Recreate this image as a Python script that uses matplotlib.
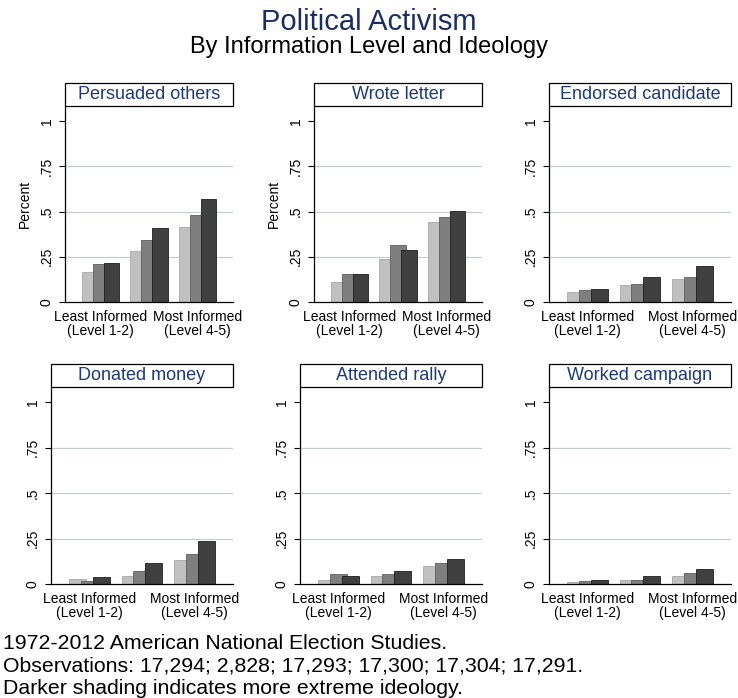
import numpy as np
import matplotlib.pyplot as plt
from matplotlib.patches import Rectangle

plt.rcParams['font.family'] = ['Liberation Sans', 'DejaVu Sans']

# Group labels (information level); the middle group has no label
group_labels = ["Least Informed\n(Level 1-2)", "", "Most Informed\n(Level 4-5)"]

# Shares by ideology shade (light, medium, dark) and information group
persuaded = [[0.166, 0.282, 0.414],
             [0.212, 0.343, 0.479],
             [0.217, 0.409, 0.571]]
wrote_letter = [[0.109, 0.238, 0.440],
                [0.157, 0.317, 0.468],
                [0.157, 0.287, 0.505]]
endorsed = [[0.055, 0.092, 0.129],
            [0.066, 0.098, 0.136],
            [0.070, 0.140, 0.201]]
donated = [[0.027, 0.046, 0.132],
           [0.018, 0.073, 0.165],
           [0.038, 0.113, 0.234]]
rally = [[0.024, 0.046, 0.099],
         [0.055, 0.055, 0.115],
         [0.044, 0.071, 0.135]]
worked = [[0.013, 0.024, 0.044],
          [0.015, 0.024, 0.060],
          [0.024, 0.044, 0.082]]

panel_titles = ["Persuaded others", "Wrote letter", "Endorsed candidate",
                "Donated money", "Attended rally", "Worked campaign"]
panel_data = [persuaded, wrote_letter, endorsed, donated, rally, worked]

yticks = [0, 0.25, 0.5, 0.75, 1]
ytick_labels = ["0", ".25", ".5", ".75", "1"]

shades = ['#c0c0c0', '#7f7f7f', '#404040']
edges = ['#a8a8a8', '#5e5e5e', '#1e1e1e']

W, H = 738, 698
fig = plt.figure(figsize=(W / 100, H / 100), dpi=100)

# panel boxes in pixels: left, top, right, bottom, show y title
boxes = [(65, 106, 233, 302, True), (314, 106, 482, 302, True), (549, 106, 731, 302, False),
         (51, 387, 233, 584, False), (300, 387, 482, 584, False), (549, 387, 731, 584, False)]

x = np.arange(len(group_labels))
step = 0.227
width = 0.324

for (l, t, r, b, ytitle), title, data in zip(boxes, panel_titles, panel_data):
    ax = fig.add_axes([l / W, (H - b) / H, (r - l) / W, (b - t) / H])
    for i, vals in enumerate(data):
        ax.bar(x + (i - 1) * step, vals, width, color=shades[i], edgecolor=edges[i],
               linewidth=0.6, zorder=2 + i)
    ax.set_xlim(-0.73, 2.73)
    ax.set_ylim(0, 1.083)
    ax.set_yticks(yticks)
    ax.set_yticklabels(ytick_labels, rotation=90, va='center', fontsize=10)
    ax.set_xticks(x)
    ax.set_xticklabels(group_labels, fontsize=10, linespacing=1.0)
    ax.tick_params(axis='x', length=0, pad=6)
    ax.tick_params(axis='y', length=4, width=0.8, pad=4)
    for yv in yticks[1:-1]:
        ax.axhline(yv, color='#c4cdd1', linewidth=0.9, zorder=1)
    for side in ('top', 'right'):
        ax.spines[side].set_visible(False)
    for side in ('left', 'bottom'):
        ax.spines[side].set_linewidth(0.9)
        ax.spines[side].set_zorder(6)
    if ytitle:
        ax.set_ylabel("Percent", fontsize=10, labelpad=6)

    # title strip above the plot area
    hbox = 23 / (b - t)
    ax.add_patch(Rectangle((0, 1), 1, hbox, transform=ax.transAxes, clip_on=False,
                           facecolor='white', edgecolor='black', linewidth=0.9))
    ax.text(0.5, 1 + hbox / 2, title, transform=ax.transAxes, ha='center', va='center',
            fontsize=13, color='#1d3a78')

fig.text(0.5, (H - 30.5) / H, "Political Activism", ha='center', va='baseline',
         fontsize=21, color='#1a2c64')
fig.text(0.5, (H - 53) / H, "By Information Level and Ideology", ha='center', va='baseline',
         fontsize=17, color='black')

notes = ["1972-2012 American National Election Studies.",
         "Observations: 17,294; 2,828; 17,293; 17,300; 17,304; 17,291.",
         "Darker shading indicates more extreme ideology."]
for k, line in enumerate(notes):
    fig.text(3 / W, (H - 649 - 22.5 * k) / H, line, ha='left', va='baseline', fontsize=15.3)

fig.savefig("out.png", dpi=100, facecolor='white')
